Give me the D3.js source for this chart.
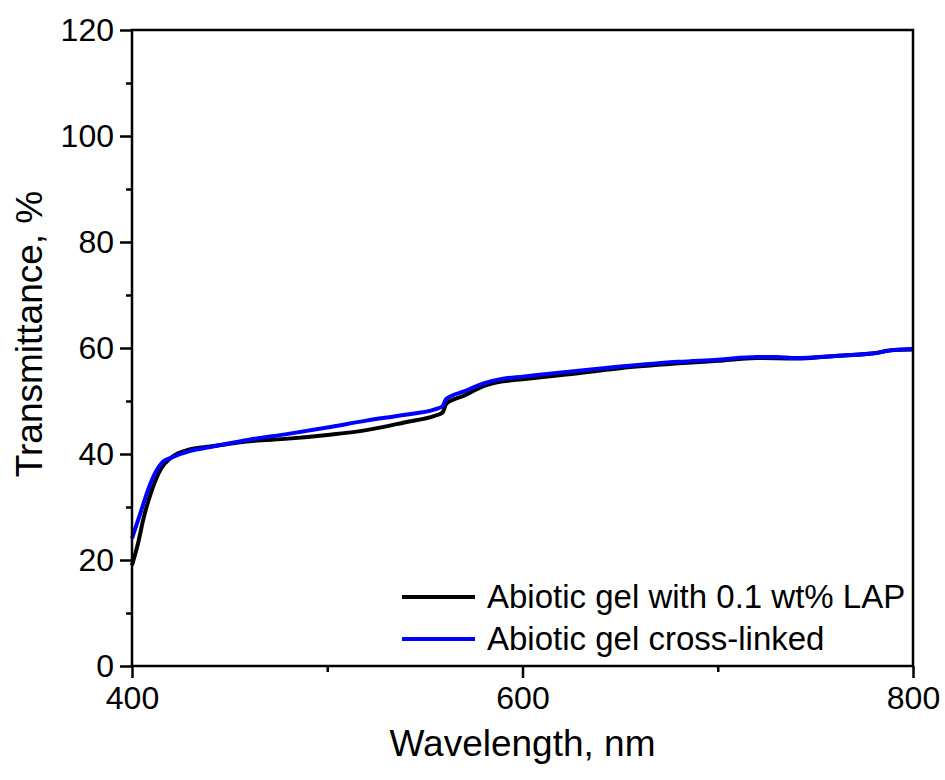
<!DOCTYPE html>
<html>
<head>
<meta charset="utf-8">
<script src="https://cdn.jsdelivr.net/npm/d3@7"></script>
<style>
  body { margin: 0; background: #fff; }
  svg text { font-family: "Liberation Sans", Arial, sans-serif; fill: #000; }
</style>
</head>
<body>
<svg id="chart" width="945" height="780"></svg>
<script>
// wavelength (nm) and transmittance (%)
var lapWave = [400, 403, 406, 410, 415, 420, 430, 440, 460, 480, 500, 520, 540, 555, 559, 561, 570, 580, 590, 600, 620, 650, 680, 700, 720, 740, 760, 780, 790, 800];
var lapT    = [19, 23, 28, 33, 37.3, 39.3, 40.9, 41.4, 42.4, 42.9, 43.6, 44.5, 46.0, 47.2, 47.8, 49.5, 51.0, 52.8, 53.7, 54.1, 54.9, 56.2, 57.1, 57.6, 58.1, 58.0, 58.5, 59.0, 59.6, 59.7];

var xlWave = [400, 404, 408, 412, 416, 420, 430, 440, 460, 480, 500, 520, 540, 555, 559, 561, 570, 580, 590, 600, 620, 650, 680, 700, 720, 730, 740, 760, 780, 790, 800];
var xlT    = [24.1, 28.5, 33, 36.5, 38.6, 39.3, 40.6, 41.3, 42.7, 43.8, 45.0, 46.3, 47.4, 48.4, 49.0, 50.4, 51.8, 53.3, 54.2, 54.6, 55.4, 56.5, 57.4, 57.8, 58.3, 58.3, 58.1, 58.5, 59.0, 59.6, 59.8];

var xTicks = [400, 600, 800];
var xMinor = [500, 700];
var yTicks = [0, 20, 40, 60, 80, 100, 120];
var yMinor = [10, 30, 50, 70, 90, 110];

var seriesNames = ["Abiotic gel with 0.1 wt% LAP", "Abiotic gel cross-linked"];
var seriesColors = ["#000000", "#0000ff"];

var svg = d3.select("#chart");
var plotL = 132, plotR = 913, plotT = 30, plotB = 666;

var x = d3.scaleLinear().domain([400, 800]).range([plotL, plotR]);
var y = d3.scaleLinear().domain([0, 120]).range([plotB, plotT]);

var series = [
  {name: seriesNames[0], color: seriesColors[0], pts: d3.zip(lapWave, lapT)},
  {name: seriesNames[1], color: seriesColors[1], pts: d3.zip(xlWave, xlT)}
];

var line = d3.line()
  .x(function(d){ return x(d[0]); })
  .y(function(d){ return y(d[1]); })
  .curve(d3.curveMonotoneX);

svg.selectAll(".curve").data(series).enter().append("path")
  .attr("class", "curve")
  .attr("d", function(d){ return line(d.pts); })
  .attr("fill", "none")
  .attr("stroke", function(d){ return d.color; })
  .attr("stroke-width", 4)
  .attr("stroke-linejoin", "round");

// frame
svg.append("rect")
  .attr("x", plotL).attr("y", plotT)
  .attr("width", plotR - plotL).attr("height", plotB - plotT)
  .attr("fill", "none").attr("stroke", "#000").attr("stroke-width", 2.5);

// axes
svg.append("g").attr("transform", "translate(0," + plotB + ")")
  .call(d3.axisBottom(x).tickValues(xTicks).tickSize(12).tickPadding(8));
svg.append("g").attr("transform", "translate(0," + plotB + ")")
  .call(d3.axisBottom(x).tickValues(xMinor).tickSize(6).tickFormat(""));
svg.append("g").attr("transform", "translate(" + plotL + ",0)")
  .call(d3.axisLeft(y).tickValues(yTicks).tickSize(12).tickPadding(6));
svg.append("g").attr("transform", "translate(" + plotL + ",0)")
  .call(d3.axisLeft(y).tickValues(yMinor).tickSize(6).tickFormat(""));

svg.selectAll(".domain").remove();
svg.selectAll(".tick line").attr("stroke", "#000").attr("stroke-width", 2.5);
svg.selectAll(".tick text").style("font-size", "32px").style("font-family", "'Liberation Sans', Arial, sans-serif");

// titles
svg.append("text")
  .attr("x", (plotL + plotR) / 2).attr("y", 756)
  .attr("text-anchor", "middle")
  .style("font-size", "37px")
  .text("Wavelength, nm");

svg.append("text")
  .attr("transform", "translate(42," + ((plotT + plotB) / 2 - 14) + ") rotate(-90)")
  .attr("text-anchor", "middle")
  .style("font-size", "37px")
  .text("Transmittance, %");

// legend
var legend = svg.selectAll(".leg").data(series).enter().append("g")
  .attr("class", "leg")
  .attr("transform", function(d, i){ return "translate(402," + (597 + i * 42) + ")"; });
legend.append("line")
  .attr("x1", 0).attr("x2", 73)
  .attr("stroke", function(d){ return d.color; })
  .attr("stroke-width", 4);
legend.append("text")
  .attr("x", 85).attr("y", 11)
  .style("font-size", "33px")
  .text(function(d){ return d.name; });
</script>
</body>
</html>
